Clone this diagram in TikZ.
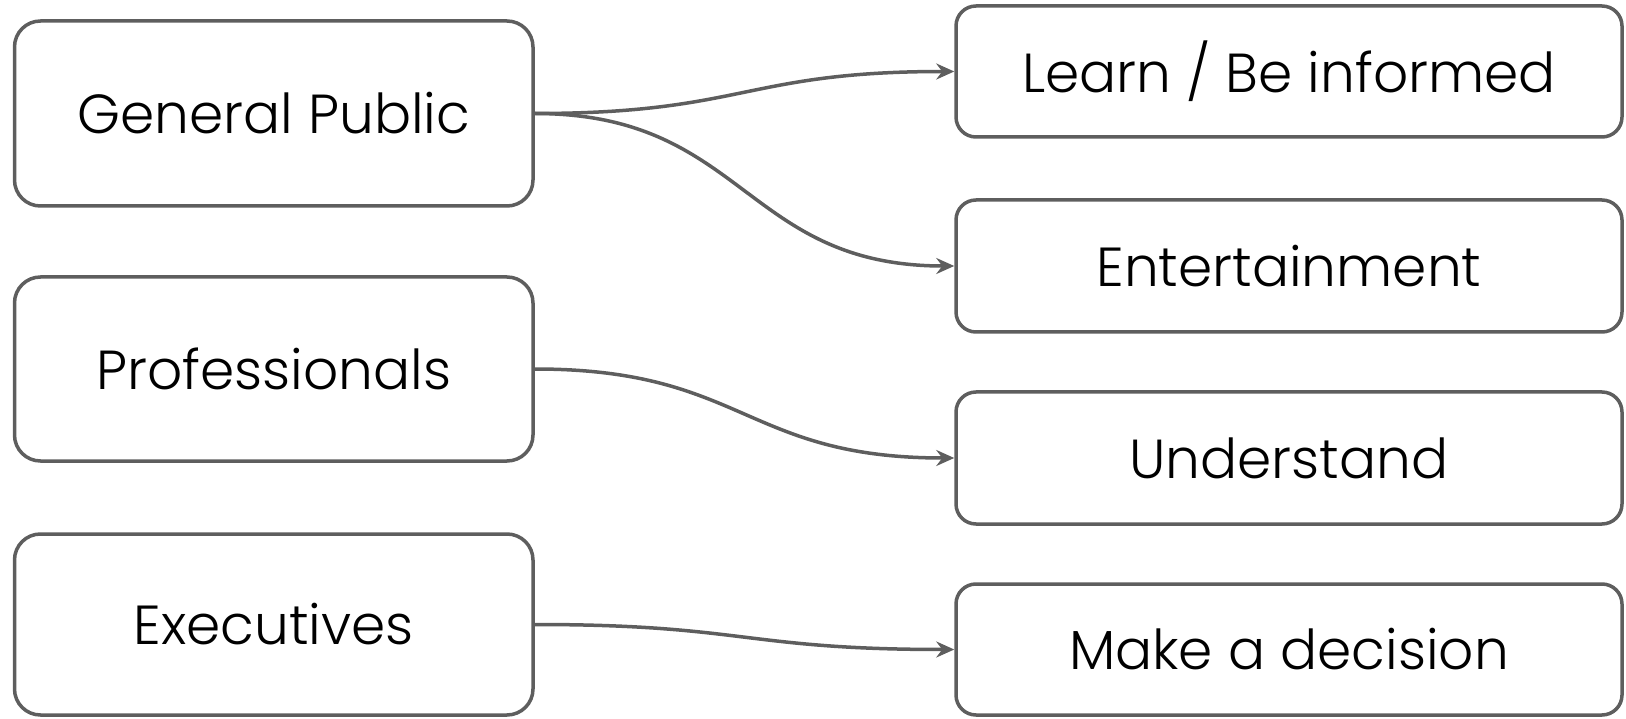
\documentclass[tikz,border=0pt]{standalone}
\usepackage{fontspec}
\setmainfont{Poppins Light}
\usetikzlibrary{arrows.meta}
\definecolor{edgegray}{HTML}{5E5E5E}
\tikzset{
  box/.style={draw=edgegray, line width=3.5pt, rounded corners=26pt, fill=white,
    font=\fontsize{55}{60}\selectfont, text=black, inner sep=0pt},
  rbox/.style={box, rounded corners=20pt, minimum width=666pt},
  lbox/.style={box, minimum width=518.5pt},
  conn/.style={draw=edgegray, line width=3.5pt, -{Stealth[length=18pt, width=16pt, inset=6pt]}}
}
\begin{document}
\begin{tikzpicture}[x=1pt, y=-1pt]
\useasboundingbox (0,0) rectangle (1626,719);
\node[lbox, minimum height=185pt] (gp) at (273.75,113.5) {General Public};
\node[lbox, minimum height=184pt] (prof) at (273.75,369) {Professionals};
\node[lbox, minimum height=181pt] (exec) at (273.75,624.5) {Executives};
\node[rbox, minimum height=131pt] (learn) at (1289,71.5) {Learn / Be informed};
\node[rbox, minimum height=132pt] (ent) at (1289,266) {Entertainment};
\node[rbox, minimum height=132pt] (und) at (1289,458) {Understand};
\node[rbox, minimum height=131pt] (make) at (1289,649.5) {Make a decision};
\draw[conn] (gp.east) .. controls +(210,0) and +(-210,0) .. (learn.west);
\draw[conn] (gp.east) .. controls +(210,0) and +(-210,0) .. (ent.west);
\draw[conn] (prof.east) .. controls +(210,0) and +(-210,0) .. (und.west);
\draw[conn] (exec.east) .. controls +(210,0) and +(-210,0) .. (make.west);
\end{tikzpicture}
\end{document}
